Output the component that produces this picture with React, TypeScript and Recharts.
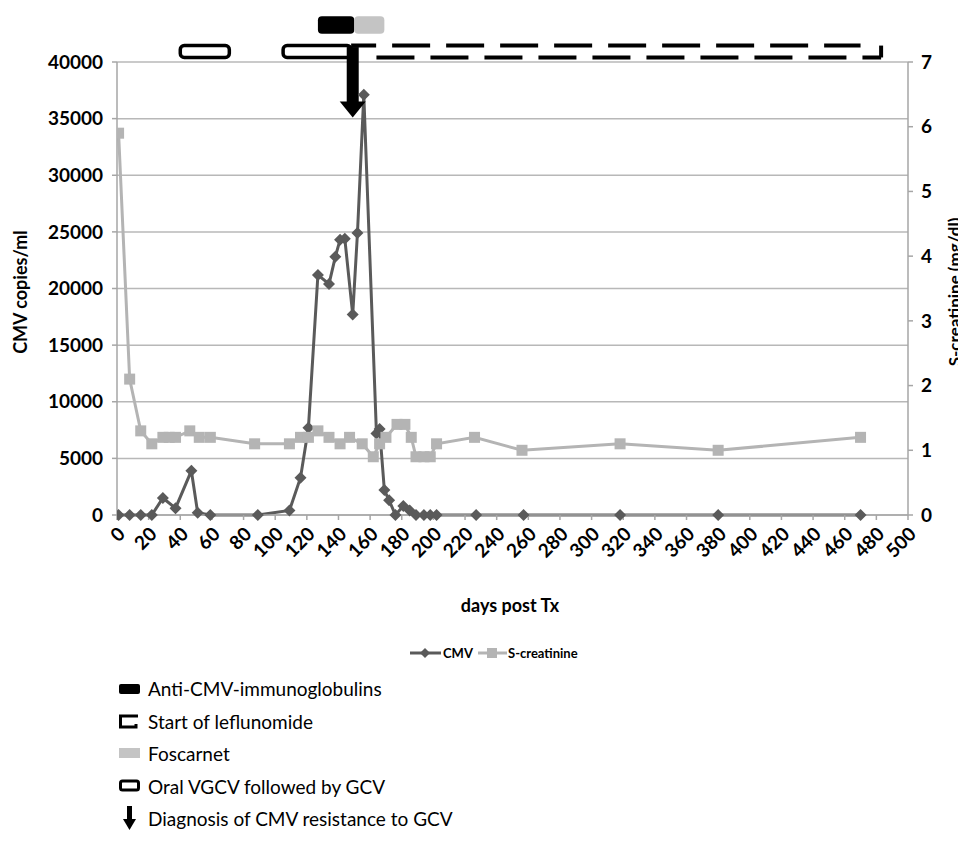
import { LineChart, Line, XAxis, YAxis, CartesianGrid, ReferenceArea, ReferenceLine, ReferenceDot } from 'recharts'

// CMV viral load (copies/ml) by day post transplant
const cmvDays = [1, 8, 15, 22, 29, 37, 47, 51, 59, 89, 109, 116, 121, 127, 134, 138, 141, 144, 149, 152, 156, 164, 166, 169, 172, 176, 181, 185, 189, 194, 198, 202, 227, 257, 318, 380, 470]
const cmvCopies = [0, 0, 0, 0, 1500, 600, 3900, 200, 0, 0, 400, 3300, 7700, 21200, 20400, 22800, 24300, 24400, 17700, 24900, 37100, 7200, 7600, 2200, 1300, 0, 800, 400, 0, 0, 0, 0, 0, 0, 0, 0, 0]

// serum creatinine (mg/dl) by day post transplant
const creatDays = [1, 8, 15, 22, 29, 33, 37, 46, 52, 59, 87, 109, 116, 121, 127, 134, 141, 147, 155, 162, 166, 170, 177, 182, 186, 189, 194, 198, 202, 226, 256, 318, 380, 470]
const creatValues = [5.9, 2.1, 1.3, 1.1, 1.2, 1.2, 1.2, 1.3, 1.2, 1.2, 1.1, 1.1, 1.2, 1.2, 1.3, 1.2, 1.1, 1.2, 1.1, 0.9, 1.1, 1.2, 1.4, 1.4, 1.2, 0.9, 0.9, 0.9, 1.1, 1.2, 1.0, 1.1, 1.0, 1.2]

const dayTicks = [0, 20, 40, 60, 80, 100, 120, 140, 160, 180, 200, 220, 240, 260, 280, 300, 320, 340, 360, 380, 400, 420, 440, 460, 480, 500]
const cmvTicks = [0, 5000, 10000, 15000, 20000, 25000, 30000, 35000, 40000]
const creatTicks = [0, 1, 2, 3, 4, 5, 6, 7]

// treatment periods (days)
const vgcvPeriods = [[40, 71], [105, 148]]
const leflunomideStart = 148
const leflunomideEnd = 483
const immunoglobulinPeriod = [127, 150]
const foscarnetPeriod = [150, 169]
const resistanceDay = 149

// heights of the annotation rows, in CMV axis units (above the plot)
const ROW_BOTTOM = 40400
const ROW_TOP = 41450
const TOP_ROW_BOTTOM = 42500
const TOP_ROW_TOP = 44050

const cmvData = cmvDays.map((day, i) => ({ day, cmv: cmvCopies[i] }))
const creatData = creatDays.map((day, i) => ({ day, creat: creatValues[i] }))

const FONT = 'Lato, "Open Sans", sans-serif'
const CMV_COLOR = '#5a5a5a'
const CREAT_COLOR = '#b4b4b4'
const AXIS_COLOR = '#a6a6a6'

const Diamond = (p: any) => (
  <path
    key={`cmv-${p.index}`}
    d={`M${p.cx},${p.cy - 6}L${p.cx + 6},${p.cy}L${p.cx},${p.cy + 6}L${p.cx - 6},${p.cy}Z`}
    fill={CMV_COLOR}
  />
)

const Square = (p: any) => (
  <rect key={`cr-${p.index}`} x={p.cx - 5.5} y={p.cy - 5.5} width={11} height={11} fill={CREAT_COLOR} />
)

const DayTick = ({ x, y, payload }: any) => {
  const tx = x + 4
  const ty = y + 8
  return (
    <text
      x={tx}
      y={ty}
      transform={`rotate(-45 ${tx} ${ty})`}
      textAnchor="end"
      dominantBaseline="central"
      fontFamily={FONT}
      fontWeight={700}
      fontSize={19}
      fill="#000"
    >
      {payload.value}
    </text>
  )
}

const box = (fill: string, stroke?: string) => (p: any) => (
  <rect
    x={p.x}
    y={p.y}
    width={p.width}
    height={p.height}
    rx={4}
    fill={fill}
    stroke={stroke ?? 'none'}
    strokeWidth={stroke ? 3.5 : 0}
  />
)

const ArrowHead = (p: any) => (
  <path d={`M${p.cx - 13},${p.cy - 16}L${p.cx + 13},${p.cy - 16}L${p.cx},${p.cy}Z`} fill="#000" />
)

const tickText = { fontFamily: FONT, fontWeight: 700, fontSize: 19, fill: '#000' }

export default function App() {
  return (
    <div style={{ position: 'relative', width: 958, height: 832 }}>
      <LineChart width={950} height={600} margin={{ top: 54, right: 0, bottom: 0, left: 0 }}>
        <CartesianGrid yAxisId="left" vertical={false} stroke="#b8b8b8" strokeWidth={1.5} />
        <XAxis
          dataKey="day"
          type="number"
          domain={[0, 500]}
          ticks={dayTicks}
          interval={0}
          height={93}
          allowDataOverflow
          axisLine={{ stroke: AXIS_COLOR, strokeWidth: 1.5 }}
          tickLine={{ stroke: AXIS_COLOR, strokeWidth: 1.5 }}
          tickSize={5}
          tick={<DayTick />}
        />
        <YAxis
          yAxisId="left"
          domain={[0, 40000]}
          ticks={cmvTicks}
          interval={0}
          width={109}
          axisLine={{ stroke: AXIS_COLOR, strokeWidth: 1.5 }}
          tickLine={{ stroke: AXIS_COLOR, strokeWidth: 1.5 }}
          tickSize={5}
          tickMargin={9}
          tick={tickText}
        />
        <YAxis
          yAxisId="right"
          orientation="right"
          domain={[0, 7]}
          ticks={creatTicks}
          interval={0}
          width={50}
          axisLine={{ stroke: AXIS_COLOR, strokeWidth: 1.5 }}
          tickLine={{ stroke: AXIS_COLOR, strokeWidth: 1.5 }}
          tickSize={5}
          tickMargin={8}
          tick={tickText}
        />
        <Line
          yAxisId="left"
          data={cmvData}
          dataKey="cmv"
          stroke={CMV_COLOR}
          strokeWidth={3}
          dot={Diamond}
          activeDot={false}
          isAnimationActive={false}
        />
        <Line
          yAxisId="right"
          data={creatData}
          dataKey="creat"
          stroke={CREAT_COLOR}
          strokeWidth={3}
          dot={Square}
          activeDot={false}
          isAnimationActive={false}
        />

        {/* treatment bars above the plot */}
        {vgcvPeriods.map(([a, b]) => (
          <ReferenceArea
            key={`vgcv-${a}`}
            yAxisId="left"
            x1={a}
            x2={b}
            y1={ROW_BOTTOM}
            y2={ROW_TOP}
            ifOverflow="visible"
            shape={box('#fff', '#000')}
          />
        ))}
        <ReferenceLine
          yAxisId="left"
          segment={[{ x: leflunomideStart, y: ROW_TOP }, { x: 470, y: ROW_TOP }]}
          stroke="#000"
          strokeWidth={4}
          strokeDasharray="38 16"
          strokeDashoffset={13}
          ifOverflow="visible"
        />
        <ReferenceLine
          yAxisId="left"
          segment={[{ x: 164, y: ROW_BOTTOM }, { x: leflunomideEnd, y: ROW_BOTTOM }]}
          stroke="#000"
          strokeWidth={4}
          strokeDasharray="38 16"
          ifOverflow="visible"
        />
        <ReferenceLine
          yAxisId="left"
          segment={[{ x: leflunomideEnd, y: ROW_BOTTOM }, { x: leflunomideEnd, y: ROW_TOP }]}
          stroke="#000"
          strokeWidth={4}
          ifOverflow="visible"
        />
        <ReferenceArea
          yAxisId="left"
          x1={immunoglobulinPeriod[0]}
          x2={immunoglobulinPeriod[1]}
          y1={TOP_ROW_BOTTOM}
          y2={TOP_ROW_TOP}
          ifOverflow="visible"
          shape={box('#000')}
        />
        <ReferenceArea
          yAxisId="left"
          x1={foscarnetPeriod[0]}
          x2={foscarnetPeriod[1]}
          y1={TOP_ROW_BOTTOM}
          y2={TOP_ROW_TOP}
          ifOverflow="visible"
          shape={box('#c4c4c4')}
        />
        <ReferenceLine
          yAxisId="left"
          segment={[{ x: resistanceDay, y: 41320 }, { x: resistanceDay, y: 36300 }]}
          stroke="#000"
          strokeWidth={12}
          ifOverflow="visible"
        />
        <ReferenceDot
          yAxisId="left"
          x={resistanceDay}
          y={35100}
          ifOverflow="visible"
          shape={ArrowHead}
        />
      </LineChart>

      <svg
        width={958}
        height={832}
        style={{ position: 'absolute', left: 0, top: 0, pointerEvents: 'none', overflow: 'visible' }}
        fontFamily={FONT}
      >
        <text x={12} y={284} transform="rotate(-90 12 284)" textAnchor="middle" dominantBaseline="central" fontWeight={700} fontSize={18}>
          CMV copies/ml
        </text>
        <text x={946} y={284} transform="rotate(-90 946 284)" textAnchor="middle" dominantBaseline="central" fontWeight={700} fontSize={17}>
          S-creatinine (mg/dl)
        </text>
        <text x={502} y={597} textAnchor="middle" dominantBaseline="central" fontWeight={700} fontSize={18}>
          days post Tx
        </text>

        {/* series legend */}
        <g fontSize={13} fontWeight={700}>
          <line x1={402} y1={645} x2={433} y2={645} stroke={CMV_COLOR} strokeWidth={3} />
          <path d="M417,640L422,645L417,650L412,645Z" fill={CMV_COLOR} />
          <text x={435} y={645} dominantBaseline="central">CMV</text>
          <line x1={470} y1={645} x2={499} y2={645} stroke={CREAT_COLOR} strokeWidth={3} />
          <rect x={479} y={640} width={10} height={10} fill={CREAT_COLOR} />
          <text x={500} y={645} dominantBaseline="central">S-creatinine</text>
        </g>

        {/* treatment legend */}
        <g fontSize={19}>
          <rect x={111} y={676} width={21} height={10} rx={2} fill="#000" />
          <text x={140} y={680} dominantBaseline="central">Anti-CMV-immunoglobulins</text>
          <path d="M130,708H112.5V719H128V716" fill="none" stroke="#000" strokeWidth={3} />
          <text x={140} y={713} dominantBaseline="central">Start of leflunomide</text>
          <rect x={111} y={740} width={21} height={10} fill="#c4c4c4" />
          <text x={140} y={745} dominantBaseline="central">Foscarnet</text>
          <rect x={112.5} y={773} width={18} height={9} rx={2} fill="#fff" stroke="#000" strokeWidth={3} />
          <text x={140} y={778} dominantBaseline="central">Oral VGCV followed by GCV</text>
          <rect x={119} y={798} width={5} height={14} fill="#000" />
          <path d="M115,811L128,811L121.5,822Z" fill="#000" />
          <text x={140} y={810} dominantBaseline="central">Diagnosis of CMV resistance to GCV</text>
        </g>
      </svg>
    </div>
  )
}
